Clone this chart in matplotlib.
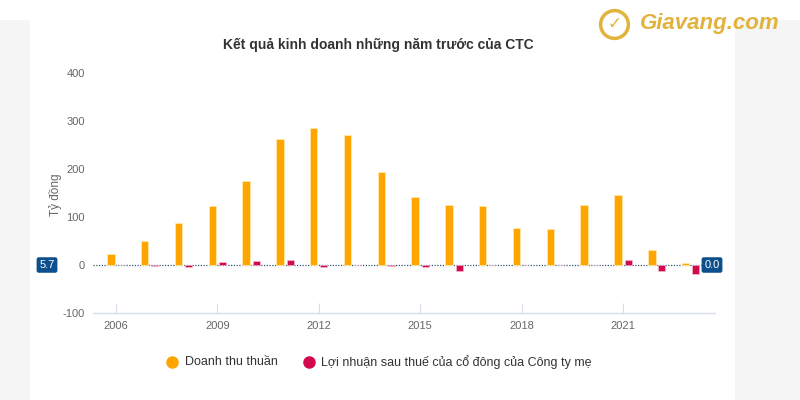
import matplotlib
matplotlib.use("Agg")
import matplotlib.pyplot as plt
from matplotlib.patches import Rectangle
import numpy as np

plt.rcParams['font.family'] = ['Liberation Sans', 'DejaVu Sans']
plt.rcParams['axes.unicode_minus'] = False

years = list(range(2006, 2024))
revenue = [23, 49, 88, 122, 175, 263, 286, 270, 193, 141, 124, 122, 78, 76, 126, 146, 31, 4]
profit = [0, -3, -4, 6, 8, 10, -4, 0, -3, -4, -12, 0, 0, 0, 0, 11, -12, -18]
xticks = [2006, 2009, 2012, 2015, 2018, 2021]
yticks = [-100, 0, 100, 200, 300, 400]

title = "Kết quả kinh doanh những năm trước của CTC"
ylabel = "Tỷ đồng"
legend_labels = ["Doanh thu thuần", "Lợi nhuận sau thuế của cổ đông của Công ty mẹ"]
left_label = "5.7"
right_label = "0.0"

c_orange = "#FFA500"
c_red = "#D3094E"
c_text = "#666666"
c_axis = "#D8DEE9"

fig = plt.figure(figsize=(8, 4), dpi=100)
fig.patch.set_facecolor("white")
# light grey page panels around the white chart card
fig.add_artist(Rectangle((0, 0), 30/800, 380/400, transform=fig.transFigure,
                         facecolor="#F5F5F5", edgecolor="none", zorder=0))
fig.add_artist(Rectangle((735/800, 0), 65/800, 380/400, transform=fig.transFigure,
                         facecolor="#F5F5F5", edgecolor="none", zorder=0))

ax = fig.add_axes([93/800, (400-313)/400, (715-93)/800, (313-73)/400])
ax.set_facecolor("none")

x = np.array(years, dtype=float)
ax.bar(x - 0.15, revenue, width=0.22, color=c_orange, edgecolor="#FFE9A8", linewidth=0.6, zorder=3)
ax.bar(x + 0.15, profit, width=0.21, color=c_red, edgecolor="#F7C6D6", linewidth=0.4, zorder=3)

ax.axhline(0, color="#33557A", linewidth=0.9, linestyle=(0, (1, 1.2)), zorder=2)

ax.set_xlim(2005.32, 2023.72)
ax.set_ylim(-100, 400)
ax.set_yticks(yticks)
ax.set_xticks(xticks)
ax.set_xticklabels([str(t) for t in xticks])

for s in ["top", "right", "left"]:
    ax.spines[s].set_visible(False)
ax.spines["bottom"].set_color(c_axis)
ax.spines["bottom"].set_linewidth(1.0)

ax.tick_params(axis="y", length=0, pad=6, labelsize=8, labelcolor=c_text)
ax.tick_params(axis="x", direction="in", length=7.5, width=0.8, color=c_axis,
               pad=6, labelsize=8, labelcolor=c_text)

fig.text(55/800, 1 - 195/400, ylabel, rotation=90, ha="center", va="center",
         fontsize=8.5, color=c_text)

fig.text(378/800, 1 - 45/400, title, ha="center", va="center",
         fontsize=10, fontweight="bold", color="#333333")

# value boxes
box = dict(boxstyle="round,pad=0.25,rounding_size=0.2", facecolor="#0B4F8C", edgecolor="none")
fig.text(47/800, 1 - 265/400, left_label, ha="center", va="center", fontsize=8,
         color="white", bbox=box)
fig.text(712/800, 1 - 265/400, right_label, ha="center", va="center", fontsize=8,
         color="white", bbox=box)

# legend
fig.text(185/800, 1 - 362/400, legend_labels[0], ha="left", va="center", fontsize=9, color="#333333")
fig.text(321/800, 1 - 362/400, legend_labels[1], ha="left", va="center", fontsize=9, color="#333333")
fig.add_artist(plt.Line2D([172/800], [1 - 362/400], marker="o", markersize=8,
                          color=c_orange, transform=fig.transFigure))
fig.add_artist(plt.Line2D([309/800], [1 - 362/400], marker="o", markersize=8,
                          color=c_red, transform=fig.transFigure))

# watermark logo
fig.text(640/800, 1 - 24/400, "Giavang.com", ha="left", va="center", fontsize=16,
         fontweight="bold", style="italic", color="#E2B33C")
fig.add_artist(plt.Line2D([614/800], [1 - 24/400], marker="o", markersize=20,
                          markerfacecolor="none", markeredgecolor="#E2B33C",
                          markeredgewidth=2.5, transform=fig.transFigure))
fig.text(614/800, 1 - 24/400, "✓", ha="center", va="center", fontsize=12,
         fontweight="bold", color="#E2B33C", family=["DejaVu Sans"])

fig.savefig("out.png", dpi=100, facecolor=fig.get_facecolor())
